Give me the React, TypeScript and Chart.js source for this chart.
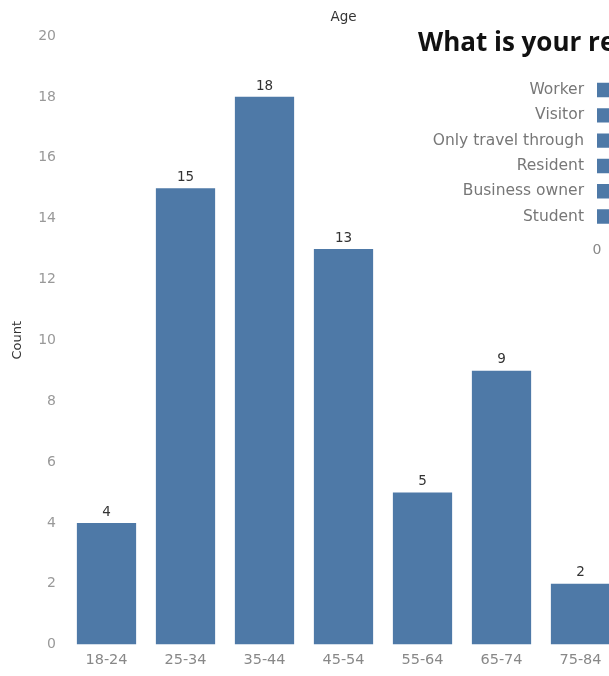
import React, { useEffect, useRef } from 'react';
import { Chart, registerables } from 'chart.js';

Chart.register(...registerables);

// ---- Data ----
const ageAxisTitle = 'Age';
const countAxisTitle = 'Count';
const ageGroups = ['18-24', '25-34', '35-44', '45-54', '55-64', '65-74', '75-84'];
const ageCounts = [4, 15, 18, 13, 5, 9, 2];
const countAxisMax = 20;
const countAxisStep = 2;

const relationshipTitle = 'What is your relationship to the area?';
const relationshipCategories = ['Worker', 'Visitor', 'Only travel through', 'Resident', 'Business owner', 'Student'];
// Bars run past the visible edge in the reference; values are estimates.
const relationshipCounts = [30, 26, 22, 20, 14, 10];

const FONT = '"DejaVu Sans", sans-serif';
const TITLE_FONT = '"Open Sans", "DejaVu Sans", sans-serif';
const BAR_COLOR = '#4e79a7';

const valueLabels = {
  id: 'valueLabels',
  afterDatasetsDraw(chart: any) {
    const ctx = chart.ctx;
    const meta = chart.getDatasetMeta(0);
    const data = chart.data.datasets[0].data;
    ctx.save();
    ctx.font = `13.5px ${FONT}`;
    ctx.fillStyle = '#333';
    ctx.textAlign = 'center';
    ctx.textBaseline = 'bottom';
    meta.data.forEach((bar: any, i: number) => {
      ctx.fillText(String(data[i]), bar.x, bar.y - 4);
    });
    ctx.restore();
  },
};

const topAxisTitle = {
  id: 'topAxisTitle',
  afterDraw(chart: any) {
    const ctx = chart.ctx;
    const area = chart.chartArea;
    ctx.save();
    ctx.font = `13.5px ${FONT}`;
    ctx.fillStyle = '#333';
    ctx.textAlign = 'center';
    ctx.textBaseline = 'middle';
    ctx.fillText(ageAxisTitle, (area.left + area.right) / 2, 17);
    ctx.restore();
  },
};

// Title drawn without a max width, so the long text is clipped rather than squeezed.
const insetTitle = {
  id: 'insetTitle',
  afterDraw(chart: any) {
    const ctx = chart.ctx;
    ctx.save();
    ctx.font = `bold 26px ${TITLE_FONT}`;
    ctx.fillStyle = '#111';
    ctx.textAlign = 'left';
    ctx.textBaseline = 'middle';
    ctx.fillText(relationshipTitle, 8, 20);
    ctx.restore();
  },
};

export default function App() {
  const mainRef = useRef<HTMLCanvasElement | null>(null);
  const insetRef = useRef<HTMLCanvasElement | null>(null);

  useEffect(() => {
    const main = new Chart(mainRef.current as HTMLCanvasElement, {
      type: 'bar',
      data: {
        labels: ageGroups,
        datasets: [
          {
            data: ageCounts,
            backgroundColor: BAR_COLOR,
            barPercentage: 0.75,
            categoryPercentage: 1,
          },
        ],
      },
      options: {
        responsive: false,
        animation: false,
        layout: { padding: { left: 0, right: 70, top: 36, bottom: 0 } },
        plugins: {
          legend: { display: false },
          tooltip: { enabled: false },
          title: { display: false },
        },
        scales: {
          x: {
            grid: { display: false, drawTicks: false },
            border: { display: false },
            ticks: { color: '#888', font: { size: 14.5, family: FONT }, padding: 7 },
          },
          y: {
            min: 0,
            max: countAxisMax,
            grid: { display: false, drawTicks: false },
            border: { display: false },
            ticks: { stepSize: countAxisStep, color: '#999', font: { size: 14, family: FONT }, padding: 11 },
            title: {
              display: true,
              text: countAxisTitle,
              color: '#333',
              font: { size: 13, family: FONT },
              padding: { top: 10, bottom: 0 },
            },
            afterFit: (s: any) => {
              s.width = 67;
            },
          },
        },
      },
      plugins: [valueLabels, topAxisTitle],
    });

    const inset = new Chart(insetRef.current as HTMLCanvasElement, {
      type: 'bar',
      data: {
        labels: relationshipCategories,
        datasets: [
          {
            data: relationshipCounts,
            backgroundColor: BAR_COLOR,
            barPercentage: 0.57,
            categoryPercentage: 1,
          },
        ],
      },
      options: {
        indexAxis: 'y',
        responsive: false,
        animation: false,
        layout: { padding: { left: 8, right: 0, top: 53.4, bottom: 0 } },
        plugins: {
          legend: { display: false },
          tooltip: { enabled: false },
          title: { display: false },
        },
        scales: {
          x: {
            min: 0,
            grid: { display: false, drawTicks: false },
            border: { display: false },
            ticks: { color: '#888', font: { size: 14, family: FONT }, padding: 13 },
          },
          y: {
            grid: { display: false, drawTicks: false },
            border: { display: false },
            ticks: { autoSkip: false, color: '#777', font: { size: 15.5, family: FONT }, padding: 13 },
            afterFit: (s: any) => {
              s.width = 179;
            },
          },
        },
      },
      plugins: [insetTitle],
    });

    return () => {
      main.destroy();
      inset.destroy();
    };
  }, []);

  return (
    <div
      style={{
        position: 'fixed',
        left: 0,
        top: 0,
        width: 609,
        height: 676,
        overflow: 'hidden',
        background: '#fff',
      }}
    >
      <canvas
        ref={mainRef}
        width={690}
        height={676}
        style={{ position: 'absolute', left: 0, top: 0, width: 690, height: 676 }}
      />
      <div style={{ position: 'absolute', left: 410, top: 24, width: 400, height: 248, background: '#fff' }}>
        <canvas ref={insetRef} width={400} height={248} style={{ width: 400, height: 248, display: 'block' }} />
      </div>
    </div>
  );
}
